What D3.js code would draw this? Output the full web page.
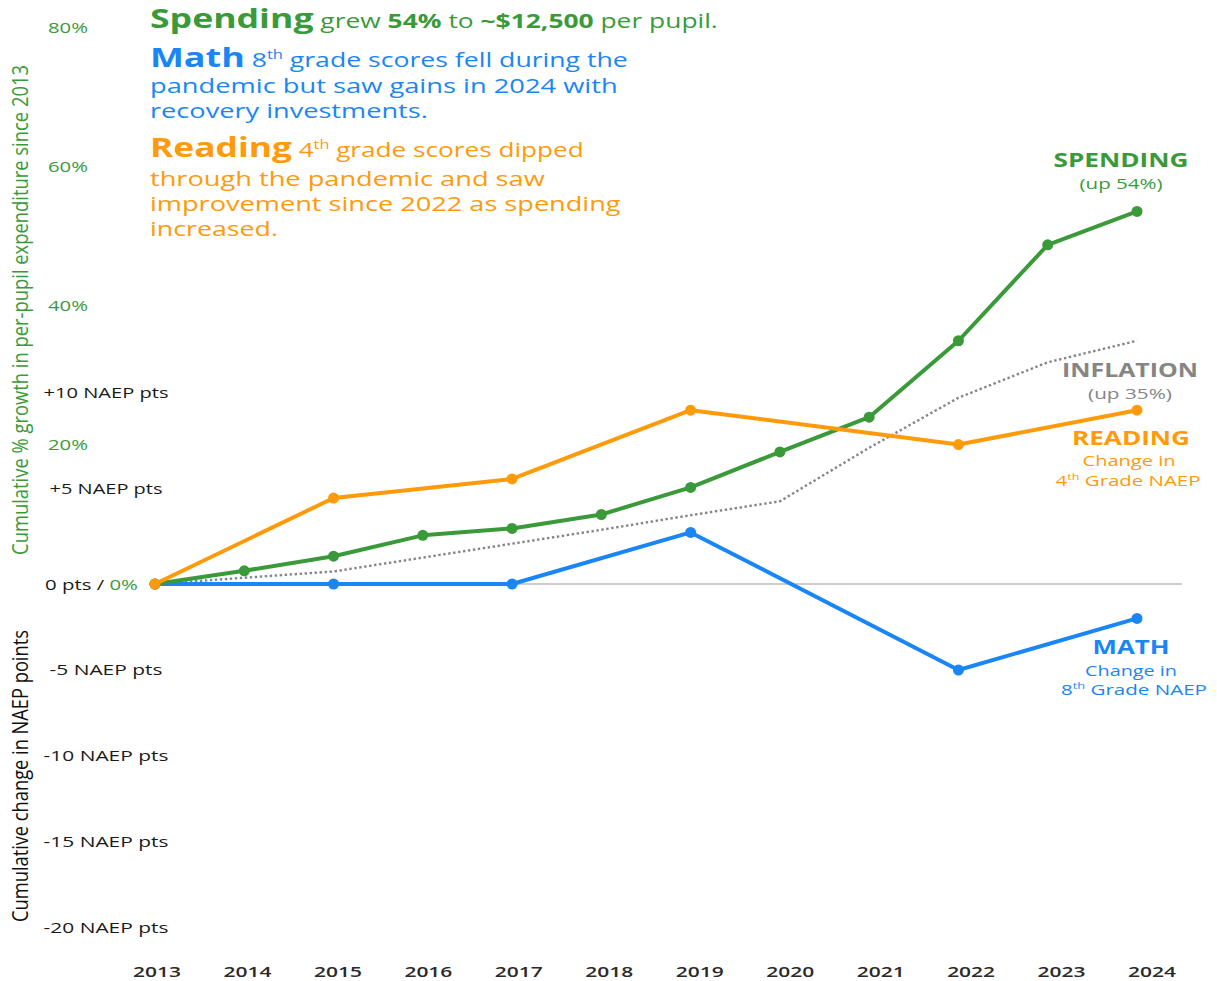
<!DOCTYPE html>
<html>
<head>
<meta charset="utf-8">
<script src="https://cdn.jsdelivr.net/npm/d3@7"></script>
<style>
  html, body { margin: 0; padding: 0; background: #fff; }
  svg { display: block; font-family: "Open Sans", "Noto Sans", sans-serif; }
</style>
</head>
<body>
<div id="chart"></div>
<script>
// ---- data ----
const years      = [2013, 2014, 2015, 2016, 2017, 2018, 2019, 2020, 2021, 2022, 2023, 2024];
const spending   = [0, 1.9, 4.0, 7.0, 8.0, 10.0, 13.9, 19.0, 24.0, 35.0, 48.8, 53.6];   // % growth
const inflation  = [0, 0.9, 1.8, 3.8, 5.8, 7.8, 9.9, 11.9, 19.6, 26.8, 31.9, 35.0];   // % growth
const naepYears  = [2013, 2015, 2017, 2019, 2022, 2024];
const reading    = [0, 4.5, 5.5, 9.1, 7.3, 9.1];    // NAEP pts, 4th grade
const math       = [0, 0, 0, 2.7, -5.0, -2.0];      // NAEP pts, 8th grade
const pctTicks   = [80, 60, 40, 20];
const naepTicks  = [10, 5, -5, -10, -15, -20];

const GREEN  = '#3a9a3a';
const BLUE   = '#1a86f5';
const ORANGE = '#ff9a0a';
const GREY   = '#858585';

const W = 1217, H = 981;
const svg = d3.select('#chart').append('svg').attr('width', W).attr('height', H);

// ---- scales ----
const x      = d3.scalePoint().domain(years).range([155, 1137]);
const xLabel = d3.scalePoint().domain(years).range([157, 1152]);
const yPct   = d3.scaleLinear().domain([0, 80]).range([584, 28]);
const yPts   = d3.scaleLinear().domain([-20, 0, 10]).range([928, 584, 393]);

// text helper: parts = [[str, {bold, sup, size, fill}]], stretched to width w
function fitText(parts, px, py, w, o) {
  o = o || {};
  const g = svg.append('g').attr('transform', `translate(${px},${py})${o.rotate ? ' rotate(' + o.rotate + ')' : ''}`);
  const inner = g.append('g');
  const t = inner.append('text')
    .attr('text-anchor', o.anchor || 'start')
    .attr('font-size', o.size || 18)
    .attr('fill', o.fill || '#222')
    .attr('font-weight', o.weight || (o.bold ? 700 : 400));
  parts.forEach(p => {
    const opt = p[1] || {};
    const s = t.append('tspan').text(p[0]);
    if (opt.bold) s.attr('font-weight', 700);
    if (opt.size) s.attr('font-size', opt.size);
    if (opt.fill) s.attr('fill', opt.fill);
    if (opt.sup) s.attr('baseline-shift', 'super').attr('font-size', (o.size || 18) * 0.62);
  });
  const bw = t.node().getComputedTextLength();
  if (w && bw) inner.attr('transform', `scale(${w / bw},1)`);
  return g;
}

// zero line
svg.append('line')
  .attr('x1', x(2013)).attr('x2', 1182)
  .attr('y1', yPct(0)).attr('y2', yPct(0))
  .attr('stroke', '#bdbdbd').attr('stroke-width', 1.5);

// ---- axis titles ----
fitText([['Cumulative % growth in per-pupil expenditure since 2013']], 28, 310, 490,
  { rotate: -90, anchor: 'middle', size: 22, fill: GREEN });
fitText([['Cumulative change in NAEP points']], 28, 776, 292,
  { rotate: -90, anchor: 'middle', size: 22, fill: '#111' });

// ---- y tick labels ----
pctTicks.forEach(v => fitText([[v + '%']], 48, yPct(v) + 5, 40, { size: 15, fill: GREEN }));
naepTicks.forEach(v => {
  const lbl = (v > 0 ? '+' : '') + v + ' NAEP pts';
  const wd = Math.abs(v) >= 10 ? 125 : 113;
  fitText([[lbl]], 106, yPts(v) + 5, wd, { size: 15, anchor: 'middle', fill: '#1a1a1a', weight: 500 });
});
fitText([['0 pts / '], ['0%', { fill: GREEN }]], 45, yPct(0) + 6, 93, { size: 15, fill: '#1a1a1a', weight: 500 });

// ---- x labels ----
years.forEach(yr => fitText([[String(yr)]], xLabel(yr), 977, 48,
  { size: 15, anchor: 'middle', fill: '#2a2a2a', weight: 600 }));

// ---- lines ----
const pctLine = d3.line().x(d => x(d.year)).y(d => yPct(d.v));
const ptsLine = d3.line().x(d => x(d.year)).y(d => yPts(d.v));
const spendData = years.map((yr, i) => ({ year: yr, v: spending[i] }));
const inflData  = years.map((yr, i) => ({ year: yr, v: inflation[i] }));
const readData  = naepYears.map((yr, i) => ({ year: yr, v: reading[i] }));
const mathData  = naepYears.map((yr, i) => ({ year: yr, v: math[i] }));

svg.append('path').datum(inflData).attr('d', pctLine)
  .attr('fill', 'none').attr('stroke', GREY).attr('stroke-width', 2.4)
  .attr('stroke-dasharray', '2.4,2.6');

function series(data, gen, yScale, color) {
  svg.append('path').datum(data).attr('d', gen)
    .attr('fill', 'none').attr('stroke', color).attr('stroke-width', 4)
    .attr('stroke-linejoin', 'round');
  svg.selectAll(null).data(data).enter().append('circle')
    .attr('cx', d => x(d.year)).attr('cy', d => yScale(d.v))
    .attr('r', 5.5).attr('fill', color);
}
series(mathData, ptsLine, yPts, BLUE);
series(spendData, pctLine, yPct, GREEN);
series(readData, ptsLine, yPts, ORANGE);

// ---- headline annotations ----
fitText([['Spending', { bold: true, size: 27 }], [' grew '], ['54%', { bold: true }], [' to '],
  ['~$12,500', { bold: true }], [' per pupil.']], 150, 28, 568, { size: 20, fill: GREEN });

fitText([['Math', { bold: true, size: 27 }], [' 8'], ['th', { sup: true }], [' grade scores fell during the']],
  150, 67, 478, { size: 20, fill: BLUE });
fitText([['pandemic but saw gains in 2024 with']], 150, 93, 468, { size: 20, fill: BLUE });
fitText([['recovery investments.']], 150, 118, 278, { size: 20, fill: BLUE });

fitText([['Reading', { bold: true, size: 27 }], ['  4'], ['th', { sup: true }], [' grade scores dipped']],
  150, 157, 434, { size: 20, fill: ORANGE });
fitText([['through the pandemic and saw']], 150, 186, 395, { size: 20, fill: ORANGE });
fitText([['improvement since 2022 as spending']], 150, 211, 471, { size: 20, fill: ORANGE });
fitText([['increased.']], 150, 236, 128, { size: 20, fill: ORANGE });

// ---- end labels ----
fitText([['SPENDING']], 1121, 167, 135, { size: 19, bold: true, anchor: 'middle', fill: GREEN });
fitText([['(up 54%)']], 1121, 189, 83, { size: 15, anchor: 'middle', fill: GREEN });
fitText([['INFLATION']], 1130, 377, 136, { size: 19, bold: true, anchor: 'middle', fill: GREY });
fitText([['(up 35%)']], 1130, 399, 84, { size: 15, anchor: 'middle', fill: GREY });
fitText([['READING']], 1131, 445, 118, { size: 19, bold: true, anchor: 'middle', fill: ORANGE });
fitText([['Change in']], 1129, 466, 93, { size: 15, anchor: 'middle', fill: ORANGE });
fitText([['4'], ['th', { sup: true }], [' Grade NAEP']], 1128, 486, 145, { size: 15, anchor: 'middle', fill: ORANGE });
fitText([['MATH']], 1131, 654, 77, { size: 19, bold: true, anchor: 'middle', fill: BLUE });
fitText([['Change in']], 1131, 676, 92, { size: 15, anchor: 'middle', fill: BLUE });
fitText([['8'], ['th', { sup: true }], [' Grade NAEP']], 1134, 695, 146, { size: 15, anchor: 'middle', fill: BLUE });
</script>
</body>
</html>
